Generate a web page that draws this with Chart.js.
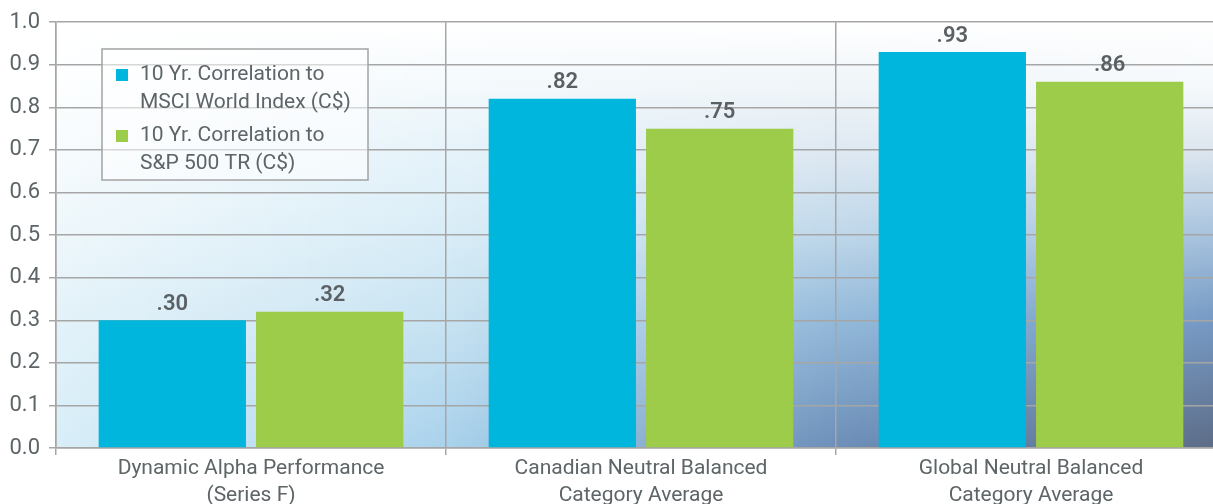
<!DOCTYPE html>
<html>
<head>
<meta charset="utf-8">
<script src="https://cdn.jsdelivr.net/npm/chart.js@4.4.1/dist/chart.umd.min.js"></script>
<style>
  html, body { margin: 0; padding: 0; background: #fff; overflow: hidden; }
  #wrap { width: 1226px; height: 512px; position: relative; }
</style>
</head>
<body>
<div id="wrap"><canvas id="chart"></canvas></div>
<script>
const categories = [
  ["Dynamic Alpha Performance", "(Series F)"],
  ["Canadian Neutral Balanced", "Category Average"],
  ["Global Neutral Balanced", "Category Average"],
];
const msciLabel = ["10 Yr. Correlation to", "MSCI World Index (C$)"];
const spLabel = ["10 Yr. Correlation to", "S&P 500 TR (C$)"];
const msciValues = [0.30, 0.82, 0.93];
const spValues = [0.32, 0.75, 0.86];
const yTickLabels = ["0.0", "0.1", "0.2", "0.3", "0.4", "0.5", "0.6", "0.7", "0.8", "0.9", "1.0"];

const BLUE = "#00b6dd";
const GREEN = "#9dcb4a";
const GRID = "#a6a6a6";
const TEXT = "#5d6568";
const FONT = "Roboto, 'Liberation Sans', sans-serif";

// backdrop colours: columns left -> right, rows top -> bottom
const bgRows = [0, 0.16, 0.3, 0.49, 0.7, 1];
const bgCols = [0, 0.33, 0.67, 1];
const bgColours = [
  ["#ffffff", "#fcfeff", "#f7fbfd", "#eef7fb", "#e3f2f9", "#d8eef8"],
  ["#ffffff", "#f3f9fc", "#e6f3fa", "#d9edf7", "#c8e3f2", "#a9d2ec"],
  ["#ffffff", "#eef4f8", "#dfe9f2", "#c0d8ea", "#93b9da", "#6c8eb8"],
  ["#ffffff", "#f4f8fb", "#dde6ef", "#a9c4de", "#7599c4", "#5c6b85"],
];

function hex(c) {
  return [1, 3, 5].map((i) => parseInt(c.slice(i, i + 2), 16));
}

const backdrop = {
  id: "backdrop",
  beforeDraw(chart) {
    const { ctx, chartArea: a } = chart;
    const w = a.right - a.left;
    const cols = bgColours.map((col) => col.map(hex));
    ctx.save();
    for (let x = 0; x < w; x += 2) {
      const t = x / w;
      let k = 0;
      while (k < bgCols.length - 2 && t > bgCols[k + 1]) k++;
      const f = (t - bgCols[k]) / (bgCols[k + 1] - bgCols[k]);
      const g = ctx.createLinearGradient(0, a.top, 0, a.bottom);
      bgRows.forEach((s, r) => {
        const c0 = cols[k][r], c1 = cols[k + 1][r];
        const c = c0.map((v, i) => Math.round(v + (c1[i] - v) * f));
        g.addColorStop(s, `rgb(${c[0]},${c[1]},${c[2]})`);
      });
      ctx.fillStyle = g;
      ctx.fillRect(a.left + x, a.top, 2, a.bottom - a.top);
    }
    ctx.restore();
  },
};

const valueLabels = {
  id: "valueLabels",
  afterDatasetsDraw(chart) {
    const { ctx } = chart;
    ctx.save();
    ctx.font = "600 22px " + FONT;
    ctx.fillStyle = "#5a6063";
    ctx.textAlign = "center";
    ctx.textBaseline = "bottom";
    chart.data.datasets.forEach((ds, i) => {
      chart.getDatasetMeta(i).data.forEach((bar, j) => {
        const txt = "." + Math.round(ds.data[j] * 100).toString().padStart(2, "0");
        ctx.fillText(txt, bar.x, bar.y - 5);
      });
    });
    ctx.restore();
  },
};

const boxLegend = {
  id: "boxLegend",
  afterDraw(chart) {
    const { ctx } = chart;
    ctx.save();
    ctx.fillStyle = "rgba(255,255,255,0.55)";
    ctx.fillRect(102, 49, 266, 131);
    ctx.strokeStyle = "#a3a3a3";
    ctx.lineWidth = 1.5;
    ctx.strokeRect(102, 49, 266, 131);
    ctx.font = "21px " + FONT;
    ctx.textBaseline = "alphabetic";
    const entries = [
      { color: BLUE, lines: msciLabel, y: 80 },
      { color: GREEN, lines: spLabel, y: 141 },
    ];
    entries.forEach((e) => {
      ctx.fillStyle = e.color;
      ctx.fillRect(116, e.y - 11, 12, 12);
      ctx.fillStyle = TEXT;
      e.lines.forEach((t, k) => ctx.fillText(t, 140, e.y + k * 28));
    });
    ctx.restore();
  },
};

new Chart(document.getElementById("chart"), {
  type: "bar",
  data: {
    labels: categories,
    datasets: [
      { label: msciLabel.join(" "), data: msciValues, backgroundColor: BLUE },
      { label: spLabel.join(" "), data: spValues, backgroundColor: GREEN },
    ],
  },
  options: {
    responsive: true,
    maintainAspectRatio: false,
    animation: false,
    categoryPercentage: 0.807,
    barPercentage: 0.936,
    layout: { padding: { top: 22, right: 0, left: 0, bottom: 0 } },
    plugins: {
      legend: { display: false },
      tooltip: { enabled: false },
    },
    scales: {
      x: {
        afterFit: (s) => { s.height = 64; },
        grid: { color: GRID, lineWidth: 1.5, tickLength: 7, offset: true },
        border: { color: GRID, width: 1.5 },
        ticks: {
          color: TEXT,
          font: { family: FONT, size: 21, lineHeight: 1.25 },
          padding: 1,
          maxRotation: 0,
          autoSkip: false,
        },
      },
      y: {
        min: 0,
        max: 1,
        afterFit: (s) => { s.width = 56; },
        grid: { color: GRID, lineWidth: 1.5, tickLength: 7 },
        border: { color: GRID, width: 1.5 },
        ticks: {
          stepSize: 0.1,
          color: TEXT,
          padding: 9,
          font: { family: FONT, size: 22 },
          callback: (v, i) => yTickLabels[i],
        },
      },
    },
  },
  plugins: [backdrop, valueLabels, boxLegend],
});
</script>
</body>
</html>
